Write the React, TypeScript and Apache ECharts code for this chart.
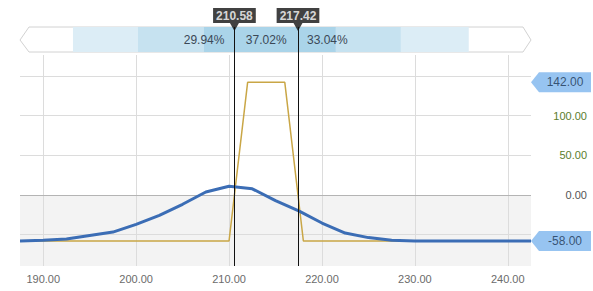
import React, { useEffect, useRef } from 'react';
import * as echarts from 'echarts';

const xMin = 187.5;
const xMax = 242.5;
const yMin = -89.5;
const yMax = 176.5;

// profit / loss at expiry (gold line)
const plX = [187.5, 210, 212, 216, 218, 242.5];
const plY = [-58, -58, 142, 142, -58, -58];

// expected P/L curve (blue line)
const curveX = [187.5, 190, 192.5, 195, 197.5, 200, 202.5, 205, 207.5, 210, 212.5, 215, 217.5, 220, 222.5, 225, 227.5, 230, 232.5, 235, 237.5, 240, 242.5];
const curveY = [-58, -57, -55.5, -51, -46.7, -37, -25.6, -11.7, 3.8, 11, 7.8, -7, -20, -35.3, -48, -53.7, -57, -58, -58, -58, -58, -58, -58];

const breakevens = [210.58, 217.42];
const probabilities = [29.94, 37.02, 33.04];
// -3σ, -2σ, -1σ, +1σ, +2σ, +3σ
const sigmaEdges = [193.2, 200.2, 207.3, 221.5, 228.5, 235.8];
const extremes = [142, -58];

const FONT = '"Liberation Sans", Arial, sans-serif';

export default function App() {
  const ref = useRef<HTMLDivElement>(null);
  useEffect(() => {
    if (!ref.current) return;
    const chart = echarts.init(ref.current, undefined, { renderer: 'svg' });
    const bandColors = ['#dcedf6', '#c6e2f0', '#aad4e9', '#c6e2f0', '#dcedf6'];
    const bands = bandColors.map((c, i) => [
      { xAxis: sigmaEdges[i], itemStyle: { color: c }, label: { show: false } },
      { xAxis: sigmaEdges[i + 1] },
    ]);
    const probRanges = [
      [xMin, breakevens[0], 'insideRight', 10],
      [breakevens[0], breakevens[1], 'inside', 0],
      [breakevens[1], xMax, 'insideLeft', 9],
    ];
    const probAreas = probRanges.map((r, i) => [
      {
        xAxis: r[0],
        itemStyle: { color: 'rgba(0,0,0,0)' },
        label: {
          show: true,
          position: r[2],
          distance: r[3],
          formatter: probabilities[i].toFixed(2) + '%',
          color: '#3b4856',
          fontSize: 12,
          fontFamily: FONT,
        },
      },
      { xAxis: r[1] },
    ]);
    const yLabelFmt = (v: number) => {
      // labels hidden behind the max/min profit flags
      if (extremes.some((e) => Math.abs(e - v) < 15)) return '';
      const s = v.toFixed(2);
      if (v > 0) return `{p|${s}}`;
      if (v < 0) return `{n|${s}}`;
      return `{z|${s}}`;
    };
    const option: any = {
      animation: false,
      textStyle: { fontFamily: FONT },
      grid: [
        { left: 20, right: 62, top: 55, bottom: 25 },
        { left: 20, right: 62, top: 27, height: 25 },
        { left: 20, right: 62, top: 27, bottom: 25 },
      ],
      xAxis: [
        {
          gridIndex: 0, type: 'value', min: xMin, max: xMax, splitNumber: 5,
          axisLine: { show: false }, axisTick: { show: false },
          axisLabel: {
            color: '#6b6b6b', fontSize: 11, margin: 7, fontFamily: FONT,
            showMinLabel: false, showMaxLabel: false,
            formatter: (v: number) => v.toFixed(2),
          },
          splitLine: { show: true, showMinLine: false, showMaxLine: false, lineStyle: { color: '#dcdcdc' } },
        },
        { gridIndex: 1, type: 'value', min: xMin, max: xMax, show: false },
        { gridIndex: 2, type: 'value', min: xMin, max: xMax, show: false },
      ],
      yAxis: [
        {
          gridIndex: 0, type: 'value', position: 'right', min: yMin, max: yMax, splitNumber: 5,
          axisLine: { show: false }, axisTick: { show: false },
          axisLabel: {
            align: 'right', margin: 56, fontSize: 11, fontFamily: FONT,
            showMinLabel: false, showMaxLabel: false,
            formatter: yLabelFmt,
            rich: {
              p: { color: '#5b7d2c', fontSize: 11, fontFamily: FONT },
              n: { color: '#a8485a', fontSize: 11, fontFamily: FONT },
              z: { color: '#555555', fontSize: 11, fontFamily: FONT },
            },
          },
          splitLine: { show: true, showMinLine: false, showMaxLine: false, lineStyle: { color: '#dcdcdc' } },
        },
        { gridIndex: 1, type: 'value', min: 0, max: 1, show: false },
        { gridIndex: 2, type: 'value', min: 0, max: 1, show: false },
      ],
      graphic: [
        {
          type: 'polygon', z: 0, silent: true,
          shape: { points: [[29, 27], [523, 27], [531, 40], [523, 52], [29, 52], [20, 40]] },
          style: { fill: '#ffffff', stroke: '#d2d2d2', lineWidth: 1 },
        },
      ],
      series: [
        {
          type: 'line', xAxisIndex: 0, yAxisIndex: 0,
          data: plX.map((x, i) => [x, plY[i]]),
          symbol: 'none', silent: true,
          lineStyle: { color: '#c9a646', width: 1.5 },
          itemStyle: { color: '#c9a646' },
          z: 3,
          markArea: {
            silent: true, z: -1,
            itemStyle: { color: '#f3f3f3' },
            label: { show: false },
            data: [[{ yAxis: 0 }, { yAxis: yMin }]],
          },
          markLine: {
            silent: true, symbol: ['none', 'none'], z: 1,
            lineStyle: { color: '#b4b4b4', width: 1, type: 'solid' },
            label: { show: false },
            data: [{ yAxis: 0 }],
          },
        },
        {
          type: 'line', xAxisIndex: 0, yAxisIndex: 0,
          data: curveX.map((x, i) => [x, curveY[i]]),
          symbol: 'none', silent: true,
          lineStyle: { color: '#3b6db5', width: 3 },
          itemStyle: { color: '#3b6db5' },
          z: 4,
        },
        {
          type: 'scatter', xAxisIndex: 0, yAxisIndex: 0, clip: false, silent: true,
          data: extremes.map((v) => [xMax, v]),
          symbol: 'path://M0,10L8,0L60,0L60,20L8,20Z',
          symbolKeepAspect: false,
          symbolSize: [60, 20],
          symbolOffset: [30, 0],
          itemStyle: { color: '#7db5ee' },
          label: {
            show: true, position: 'inside', offset: [4, 0],
            formatter: (p: any) => p.value[1].toFixed(2),
            color: '#1c3452', fontSize: 12, fontFamily: FONT,
          },
          z: 8,
        },
        {
          type: 'line', xAxisIndex: 1, yAxisIndex: 1,
          data: [[xMin, 0.5]], symbol: 'none', silent: true,
          lineStyle: { opacity: 0 },
          markArea: {
            silent: true,
            data: [...bands, ...probAreas],
          },
          z: 2,
        },
        {
          type: 'scatter', xAxisIndex: 2, yAxisIndex: 2, clip: false, silent: true,
          data: breakevens.map((v) => [v, 1]),
          symbol: 'triangle', symbolRotate: 180, symbolSize: [9, 8],
          itemStyle: { color: '#111111' },
          label: {
            show: true, position: 'top', distance: 0,
            formatter: (p: any) => p.value[0].toFixed(2),
            backgroundColor: '#111111', color: '#ffffff',
            fontWeight: 'bold', fontSize: 12, fontFamily: FONT,
            padding: [2, 3, 1, 3],
          },
          markLine: {
            silent: true, symbol: ['none', 'none'],
            lineStyle: { color: '#111111', width: 1, type: 'solid' },
            label: { show: false },
            data: breakevens.map((v) => ({ xAxis: v })),
          },
          z: 10,
        },
      ],
    };
    chart.setOption(option);
    return () => chart.dispose();
  }, []);
  return (
    <div
      ref={ref}
      style={{ position: 'fixed', left: 0, top: 0, width: 593, height: 291, background: '#ffffff' }}
    />
  );
}
